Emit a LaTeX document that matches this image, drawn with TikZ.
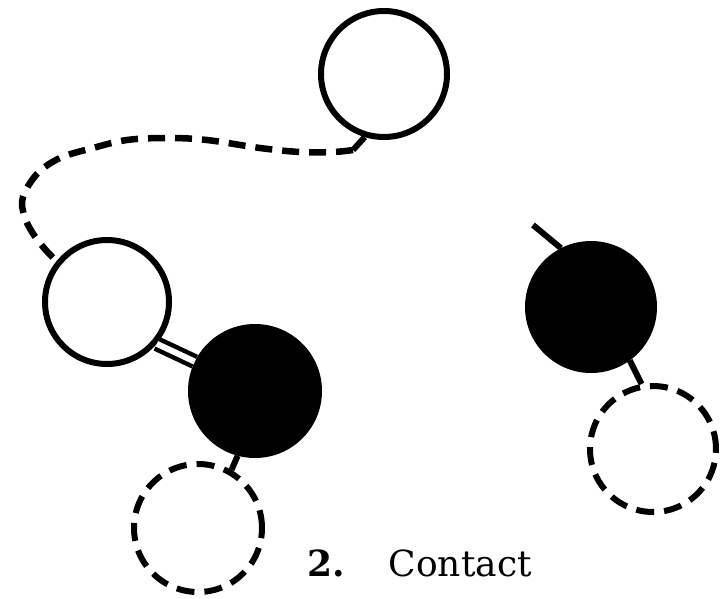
\documentclass[tikz,border=0pt]{standalone}
\usepackage{fontspec}
\setmainfont{DejaVu Serif}
\begin{document}
\begin{tikzpicture}[x=1pt,y=-1pt,
  ring/.style={circle,draw=black,line width=6pt,fill=white,inner sep=0pt},
  solidball/.style={circle,draw=black,fill=black,line width=6pt,inner sep=0pt},
  ghost/.style={circle,draw=black,line width=6pt,inner sep=0pt,dash pattern=on 18pt off 10pt},
  bond/.style={line width=6pt},
  dashbond/.style={line width=6.5pt,dash pattern=on 17pt off 10pt},
  dbond/.style={double=white,double distance=6pt,line width=4.5pt}]
\useasboundingbox (0,0) rectangle (721,598);
\node[ring,minimum size=126pt] (t) at (384,74) {};
\node[ring,minimum size=124pt] (l) at (107,302) {};
\node[solidball,minimum size=128pt] (b) at (255,391) {};
\node[ghost,minimum size=128pt] (d) at (198,528) {};
\node[solidball,minimum size=126pt] (rb) at (591,307) {};
\node[ghost,minimum size=126pt] (rd) at (653,449) {};
\coordinate (rfree) at (533,225);
% connectors
\draw[bond] (t.253) -- (353,150);
\draw[dashbond] (353,150) plot[smooth,tension=0.6] coordinates {(353,150) (333,152) (300,152) (260,148) (207,140) (167,138) (127,140) (93,148) (60,158) (37,174) (23,197) (24,215) (32,232) (44,248) (l.141)};
\draw[dbond] (l.-40) -- (b.154);
\draw[bond] (b.255) -- (d.60);
\draw[bond] (rfree) -- (rb.117);
\draw[bond] (rb.306) -- (rd.100);
\node[anchor=base west,font=\fontsize{36}{40}\selectfont,inner sep=0pt] (lab) at (307,576) {\textbf{2.}\hspace{44pt}Contact};
\end{tikzpicture}
\end{document}
